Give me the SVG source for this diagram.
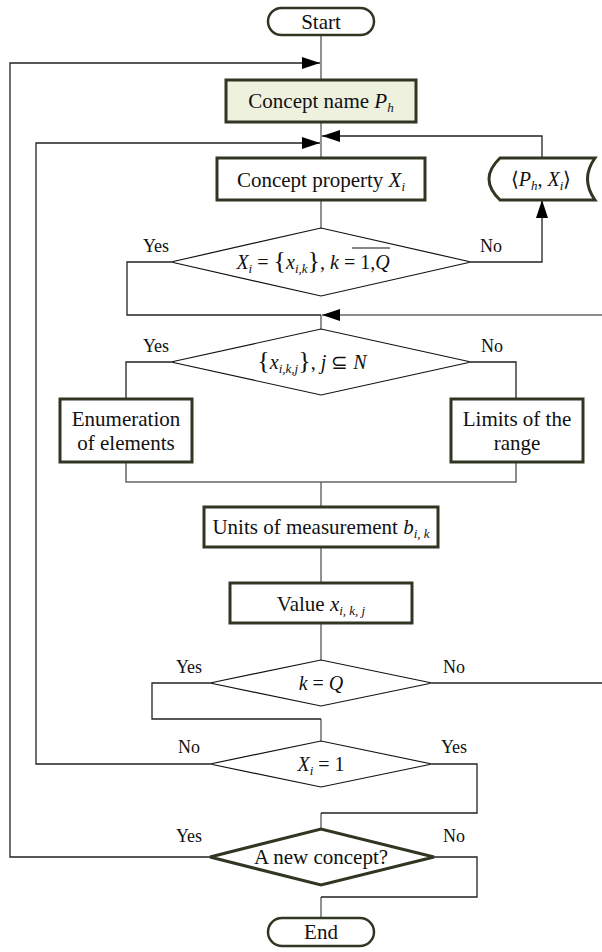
<svg xmlns="http://www.w3.org/2000/svg" width="602" height="952" viewBox="0 0 602 952">
<defs>
<marker id="ah" markerUnits="userSpaceOnUse" markerWidth="18" markerHeight="12" refX="18" refY="6" orient="auto">
<path d="M0,0 L18,6 L0,12 Z" fill="#000"/>
</marker>
<style>
.box{fill:#fff;stroke:#2f3622;stroke-width:3}
.term{fill:#fff;stroke:#2f3622;stroke-width:2.5}
.dia{fill:#fff;stroke:#111;stroke-width:1.2}
.diaT{fill:#fff;stroke:#2f3622;stroke-width:3}
.main{fill:none;stroke:#777;stroke-width:1.6}
.conn{fill:none;stroke:#222;stroke-width:1.3}
.gconn{fill:none;stroke:#666;stroke-width:1.5}
.t{font-family:"Liberation Serif","Times New Roman",serif;font-size:21px;fill:#111;text-anchor:middle}
.lbl{font-family:"Liberation Serif","Times New Roman",serif;font-size:18px;fill:#111;text-anchor:middle}
.m{font-family:"Liberation Serif","Times New Roman",serif;font-size:20px;fill:#111;text-anchor:middle}
.i{font-style:italic}
.s{font-size:13px;font-style:italic}
</style>
</defs>
<g id="connectors">
<path class="main" d="M321,35 V80 M321,122 V158 M321,200 V228 M321,315 V329 M321,482 V507 M321,547 V583 M321,623 V660 M321,719 V741 M321,813 V829 M321,897 V918"/>
<path class="conn" d="M210,857 H10 V63 H320" marker-end="url(#ah)"/>
<path class="conn" d="M210,764 H36 V143 H320" marker-end="url(#ah)"/>
<path class="conn" d="M542,158 V136 H322" marker-end="url(#ah)"/>
<path class="conn" d="M471,262 H542 V200" marker-end="url(#ah)"/>
<path class="conn" d="M171,262 H127 V315 H321"/>
<path class="gconn" d="M602,315 H322" marker-end="url(#ah)"/>
<path class="conn" d="M171,362 H126 V399"/>
<path class="conn" d="M471,362 H516 V399"/>
<path class="gconn" d="M126,462 V482 H516 V462"/>
<path class="conn" d="M210,683 H152 V719 H321"/>
<path class="conn" d="M432,683 H602"/>
<path class="conn" d="M432,764 H477 V813 H321"/>
<path class="conn" d="M434,857 H477 V897 H321"/>
</g>
<g id="start">
<rect class="term" x="268" y="8" width="106" height="27" rx="13.5"/>
<text class="t" x="321" y="29">Start</text>
</g>
<g id="concept-name">
<rect class="box" x="226" y="80" width="190" height="42" style="fill:#eef1de"/>
<text class="t" x="321" y="108">Concept name <tspan class="i">P</tspan><tspan class="s" dy="4">h</tspan></text>
</g>
<g id="concept-property">
<rect class="box" x="217" y="158" width="208" height="42"/>
<text class="t" x="321" y="187">Concept property <tspan class="i">X</tspan><tspan class="s" dy="4">i</tspan></text>
</g>
<g id="data">
<path class="box" d="M500,158 H595 Q580,179 595,200 H500 Q478,179 500,158 Z"/>
<text class="m" x="541" y="186">⟨<tspan class="i">P</tspan><tspan class="s" dy="4">h</tspan><tspan dy="-4">, </tspan><tspan class="i">X</tspan><tspan class="s" dy="4">i</tspan><tspan dy="-4">⟩</tspan></text>
</g>
<g id="dec-type">
<polygon class="dia" points="171,262 321,228 471,262 321,296"/>
<text class="m" x="313" y="269"><tspan class="i">X</tspan><tspan class="s" dy="4">i</tspan><tspan dy="-4"> = </tspan><tspan font-size="26">{</tspan><tspan class="i">x</tspan><tspan class="s" dy="4">i,k</tspan><tspan dy="-4" font-size="26">}</tspan>, <tspan class="i">k</tspan> = 1,<tspan class="i">Q</tspan></text>
<line x1="352" y1="248" x2="390" y2="248" stroke="#111" stroke-width="1.2"/>
<text class="lbl" x="156" y="252">Yes</text>
<text class="lbl" x="491" y="252">No</text>
</g>
<g id="dec-set">
<polygon class="dia" points="171,362 321,329 471,362 321,395"/>
<text class="m" x="312" y="369"><tspan font-size="26">{</tspan><tspan class="i">x</tspan><tspan class="s" dy="4">i,k,j</tspan><tspan dy="-4" font-size="26">}</tspan>,  <tspan class="i">j</tspan> ⊆ <tspan class="i">N</tspan></text>
<text class="lbl" x="156" y="352">Yes</text>
<text class="lbl" x="492" y="352">No</text>
</g>
<g id="enumeration">
<rect class="box" x="60" y="399" width="132" height="63"/>
<text class="t" x="126" y="426">Enumeration</text>
<text class="t" x="126" y="450">of elements</text>
</g>
<g id="limits">
<rect class="box" x="451" y="399" width="132" height="63"/>
<text class="t" x="517" y="426">Limits of the</text>
<text class="t" x="517" y="450">range</text>
</g>
<g id="units">
<rect class="box" x="204" y="507" width="234" height="40"/>
<text class="t" x="321" y="534">Units of measurement <tspan class="i">b</tspan><tspan class="s" dy="4">i, k</tspan></text>
</g>
<g id="value">
<rect class="box" x="230" y="583" width="182" height="40"/>
<text class="t" x="321" y="611">Value <tspan class="i">x</tspan><tspan class="s" dy="4">i, k, j</tspan></text>
</g>
<g id="dec-kq">
<polygon class="dia" points="210,683 321,660 432,683 321,706"/>
<text class="m" x="321" y="690"><tspan class="i">k</tspan> = <tspan class="i">Q</tspan></text>
<text class="lbl" x="189" y="673">Yes</text>
<text class="lbl" x="454" y="673">No</text>
</g>
<g id="dec-x1">
<polygon class="dia" points="210,764 321,741 432,764 321,787"/>
<text class="m" x="321" y="771"><tspan class="i">X</tspan><tspan class="s" dy="4">i</tspan><tspan dy="-4"> = 1</tspan></text>
<text class="lbl" x="189" y="753">No</text>
<text class="lbl" x="454" y="753">Yes</text>
</g>
<g id="dec-new">
<polygon class="diaT" points="210,857 321,829 434,857 321,885"/>
<text class="t" x="321" y="864">A new concept?</text>
<text class="lbl" x="189" y="842">Yes</text>
<text class="lbl" x="454" y="842">No</text>
</g>
<g id="end">
<rect class="term" x="268" y="918" width="106" height="28" rx="14"/>
<text class="t" x="321" y="939">End</text>
</g>
</svg>
